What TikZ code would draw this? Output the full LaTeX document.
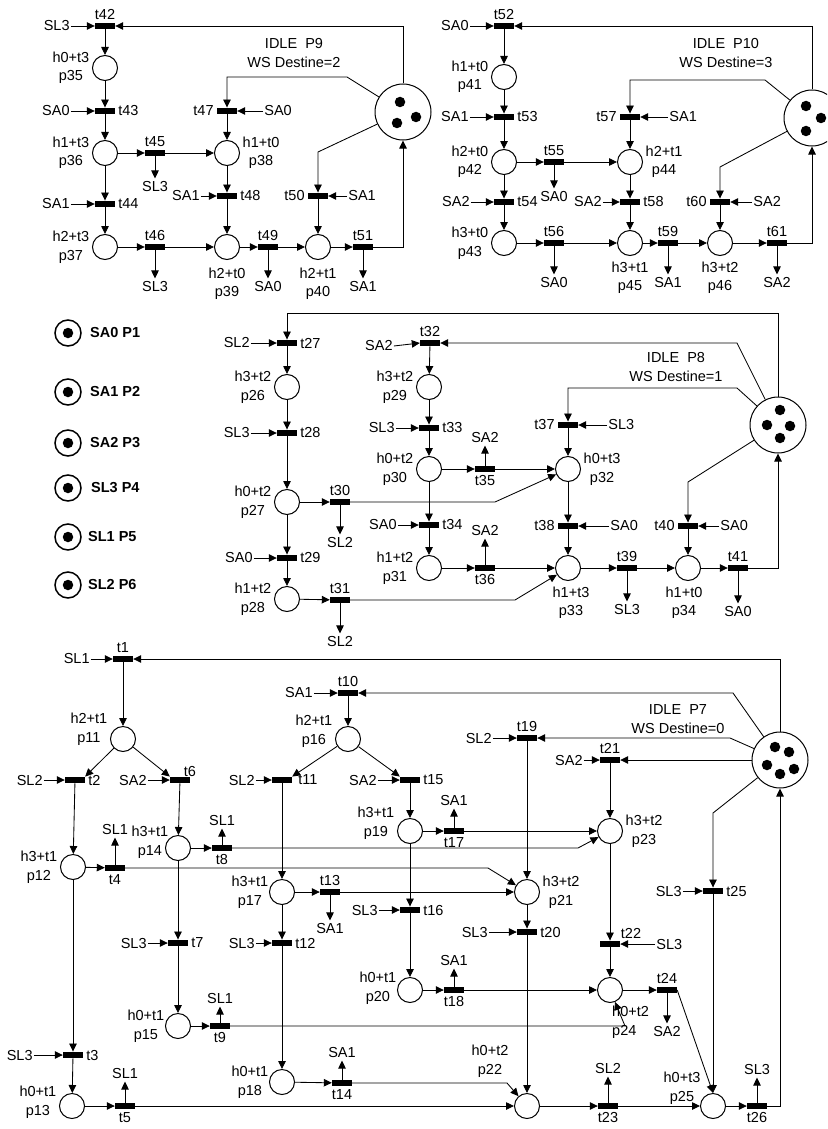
\documentclass[tikz,border=0pt]{standalone}
\usepackage{fontspec}
\setmainfont{Liberation Sans}
\usetikzlibrary{arrows.meta,positioning,calc}
\begin{document}
\begin{tikzpicture}[x=1pt,y=-1pt,
  every node/.style={font=\fontsize{14.5}{18.5}\selectfont},
  label distance=1.5pt,
  pl/.style={circle,draw,line width=1pt,minimum size=25pt,inner sep=0pt},
  idle/.style={circle,draw,line width=1pt,minimum size=56pt,inner sep=0pt},
  lg/.style={circle,draw,line width=1.5pt,minimum size=26pt,inner sep=0pt},
  tr/.style={rectangle,fill=black,minimum width=20pt,minimum height=6.5pt,inner sep=0pt},
  tok/.style={circle,fill=black,minimum size=10.5pt,inner sep=0pt},
  res/.style={inner sep=1pt},
  outr/.style={inner sep=3pt},
  lab/.style={align=center,inner sep=1pt},
  tl/.style={inner sep=1.5pt},
  arr/.style={line width=0.85pt,-{Triangle[length=8pt,width=7.5pt]}},
  lgt/.style={anchor=west,inner sep=0pt,font=\fontsize{14.5}{17}\selectfont\bfseries},
]
\useasboundingbox (0,0) rectangle (827,1129);
\clip (0,0) rectangle (827,1129);

% ================= P9 block =================
\node[idle] (P9) at (403,112) {};
\node[tok] (P9a) at (400,102) {};
\node[tok] (P9b) at (416,117) {};
\node[tok] (P9c) at (397,123) {};
\node[lab] (I9) at (294,53) {IDLE\ \ P9\\WS Destine=2};

\node[pl,label={[lab]left:{h0+t3\\p35}}] (p35) at (105,68) {};
\node[pl,label={[lab]left:{h1+t3\\p36}}] (p36) at (105,153) {};
\node[pl,label={[lab]left:{h2+t3\\p37}}] (p37) at (105,247) {};
\node[pl,label={[lab]right:{h1+t0\\p38}}] (p38) at (227,153) {};
\node[pl,label={[lab,yshift=-5pt]below:{h2+t0\\p39}}] (p39) at (227,247) {};
\node[pl,label={[lab,yshift=-5pt]below:{h2+t1\\p40}}] (p40) at (318,247) {};

\node[tr,label={[tl]above:t42}] (t42) at (105,26) {};
\node[tr,label={[tl]right:t43}] (t43) at (105,111) {};
\node[tr,label={[tl]right:t44}] (t44) at (105,204) {};
\node[tr,label={[tl]above:t45}] (t45) at (155,153) {};
\node[tr,label={[tl]above:t46}] (t46) at (155,247) {};
\node[tr,label={[tl]left:t47}] (t47) at (227,111) {};
\node[tr,label={[tl]right:t48}] (t48) at (227,196) {};
\node[tr,label={[tl]above:t49}] (t49) at (268,247) {};
\node[tr,label={[tl]left:t50}] (t50) at (318,196) {};
\node[tr,label={[tl]above:t51}] (t51) at (363,247) {};

\node[res,left=24pt of t42] (r42) {SL3};
\node[res,left=24pt of t43] (r43) {SA0};
\node[res,left=24pt of t44] (r44) {SA1};
\node[outr,below=22pt of t45] (r45) {SL3};
\node[outr,below=28pt of t46] (r46) {SL3};
\node[res,right=26pt of t47] (r47) {SA0};
\node[res,left=16pt of t48] (r48) {SA1};
\node[outr,below=28pt of t49] (r49) {SA0};
\node[res,right=19pt of t50] (r50) {SA1};
\node[outr,below=28pt of t51] (r51) {SA1};

\coordinate (k47) at (347,77);
\coordinate (k50) at (318,152);
\draw[arr] (r42) -- (t42);
\draw[arr] (P9.north) |- (t42.east);
\draw[arr] (t42) -- (p35);
\draw[arr] (p35) -- (t43);
\draw[arr] (r43) -- (t43);
\draw[arr] (t43) -- (p36);
\draw[arr] (p36) -- (t44);
\draw[arr] (r44) -- (t44);
\draw[arr] (t44) -- (p37);
\draw[arr] (p36) -- (t45);
\draw[arr] (t45) -- (r45);
\draw[arr] (t45) -- (p38);
\draw[arr] (p37) -- (t46);
\draw[arr] (t46) -- (r46);
\draw[arr] (t46) -- (p39);
\draw[arr] (P9) -- (k47) -| (t47.north);
\draw[arr] (r47) -- (t47);
\draw[arr] (t47) -- (p38);
\draw[arr] (p38) -- (t48);
\draw[arr] (r48) -- (t48);
\draw[arr] (t48) -- (p39);
\draw[arr] (p39) -- (t49);
\draw[arr] (t49) -- (r49);
\draw[arr] (t49) -- (p40);
\draw[arr] (P9) -- (k50) -- (t50.north);
\draw[arr] (r50) -- (t50);
\draw[arr] (t50) -- (p40);
\draw[arr] (p40) -- (t51);
\draw[arr] (t51) -- (r51);
\draw[arr] (t51.east) -| (P9.south);

% ================= P10 block =================
\node[idle] (P10) at (812,118) {};
\node[tok] (P10a) at (806,106) {};
\node[tok] (P10b) at (821,118) {};
\node[tok] (P10c) at (806,131) {};
\node[lab] (I10) at (726,53) {IDLE\ \ P10\\WS Destine=3};

\node[pl,label={[lab]left:{h1+t0\\p41}}] (p41) at (504,77) {};
\node[pl,label={[lab]left:{h2+t0\\p42}}] (p42) at (504,162) {};
\node[pl,label={[lab]left:{h3+t0\\p43}}] (p43) at (504,243) {};
\node[pl,label={[lab]right:{h2+t1\\p44}}] (p44) at (630,162) {};
\node[pl,label={[lab,yshift=-3pt]below:{h3+t1\\p45}}] (p45) at (630,243) {};
\node[pl,label={[lab,yshift=-3pt]below:{h3+t2\\p46}}] (p46) at (720,243) {};

\node[tr,label={[tl]above:t52}] (t52) at (504,26) {};
\node[tr,label={[tl]right:t53}] (t53) at (504,117) {};
\node[tr,label={[tl]right:t54}] (t54) at (504,202) {};
\node[tr,label={[tl]above:t55}] (t55) at (554,162) {};
\node[tr,label={[tl]above:t56}] (t56) at (554,243) {};
\node[tr,label={[tl]left:t57}] (t57) at (630,117) {};
\node[tr,label={[tl]right:t58}] (t58) at (630,202) {};
\node[tr,label={[tl]above:t59}] (t59) at (668,243) {};
\node[tr,label={[tl]left:t60}] (t60) at (720,202) {};
\node[tr,label={[tl]above:t61}] (t61) at (777,243) {};

\node[res,left=24pt of t52] (r52) {SA0};
\node[res,left=24pt of t53] (r53) {SA1};
\node[res,left=23pt of t54] (r54) {SA2};
\node[outr,below=23pt of t55] (r55) {SA0};
\node[outr,below=28pt of t56] (r56) {SA0};
\node[res,right=28pt of t57] (r57) {SA1};
\node[res,left=17pt of t58] (r58) {SA2};
\node[outr,below=28pt of t59] (r59) {SA1};
\node[res,right=22pt of t60] (r60) {SA2};
\node[outr,below=28pt of t61] (r61) {SA2};

\coordinate (k57) at (765,80);
\coordinate (k60) at (720,167);
\draw[arr] (r52) -- (t52);
\draw[arr] (P10.north) |- (t52.east);
\draw[arr] (t52) -- (p41);
\draw[arr] (p41) -- (t53);
\draw[arr] (r53) -- (t53);
\draw[arr] (t53) -- (p42);
\draw[arr] (p42) -- (t54);
\draw[arr] (r54) -- (t54);
\draw[arr] (t54) -- (p43);
\draw[arr] (p42) -- (t55);
\draw[arr] (t55) -- (r55);
\draw[arr] (t55) -- (p44);
\draw[arr] (p43) -- (t56);
\draw[arr] (t56) -- (r56);
\draw[arr] (t56) -- (p45);
\draw[arr] (P10) -- (k57) -| (t57.north);
\draw[arr] (r57) -- (t57);
\draw[arr] (t57) -- (p44);
\draw[arr] (p44) -- (t58);
\draw[arr] (r58) -- (t58);
\draw[arr] (t58) -- (p45);
\draw[arr] (p45) -- (t59);
\draw[arr] (t59) -- (r59);
\draw[arr] (t59) -- (p46);
\draw[arr] (P10) -- (k60) -- (t60.north);
\draw[arr] (r60) -- (t60);
\draw[arr] (t60) -- (p46);
\draw[arr] (p46) -- (t61);
\draw[arr] (t61) -- (r61);
\draw[arr] (t61.east) -| (P10.south);

% ================= Legend =================
\node[lg] (L1) at (68,333) {}; \node[tok] (L1k) at (68,333) {}; \node[lgt] (L1t) at (90,333) {SA0 P1};
\node[lg] (L2) at (68,392) {}; \node[tok] (L2k) at (68,392) {}; \node[lgt] (L2t) at (90,392) {SA1 P2};
\node[lg] (L3) at (68,443) {}; \node[tok] (L3k) at (68,443) {}; \node[lgt] (L3t) at (90,443) {SA2 P3};
\node[lg] (L4) at (68,488) {}; \node[tok] (L4k) at (68,488) {}; \node[lgt] (L4t) at (91,488) {SL3 P4};
\node[lg] (L5) at (68,537) {}; \node[tok] (L5k) at (68,537) {}; \node[lgt] (L5t) at (88,537) {SL1 P5};
\node[lg] (L6) at (68,585) {}; \node[tok] (L6k) at (68,585) {}; \node[lgt] (L6t) at (88,585) {SL2 P6};

% ================= P8 block =================
\node[idle] (P8) at (778,425) {};
\node[tok] (P8a) at (780,410) {};
\node[tok] (P8b) at (767,425) {};
\node[tok] (P8c) at (790,426) {};
\node[tok] (P8d) at (780,438) {};
\node[lab] (I8) at (676,367) {IDLE\ \ P8\\WS Destine=1};

\node[pl,label={[lab]left:{h3+t2\\p26}}] (p26) at (287,387) {};
\node[pl,label={[lab]left:{h0+t2\\p27}}] (p27) at (287,502) {};
\node[pl,label={[lab]left:{h1+t2\\p28}}] (p28) at (287,599) {};
\node[pl,label={[lab]left:{h3+t2\\p29}}] (p29) at (429,387) {};
\node[pl,label={[lab]left:{h0+t2\\p30}}] (p30) at (429,469) {};
\node[pl,label={[lab]left:{h1+t2\\p31}}] (p31) at (429,568) {};
\node[pl,label={[lab]right:{h0+t3\\p32}}] (p32) at (568,469) {};
\node[pl,label={[lab,yshift=-3pt,xshift=3pt]below:{h1+t3\\p33}}] (p33) at (568,568) {};
\node[pl,label={[lab,yshift=-3pt,xshift=-4pt]below:{h1+t0\\p34}}] (p34) at (688,568) {};

\node[tr,label={[tl]right:t27}] (t27) at (287,343) {};
\node[tr,label={[tl]right:t28}] (t28) at (287,433) {};
\node[tr,label={[tl]right:t29}] (t29) at (287,558) {};
\node[tr,label={[tl]above:t30}] (t30) at (340,502) {};
\node[tr,label={[tl]above:t31}] (t31) at (340,600) {};
\node[tr,label={[tl]above:t32}] (t32) at (430,343) {};
\node[tr,label={[tl]right:t33}] (t33) at (429,428) {};
\node[tr,label={[tl]right:t34}] (t34) at (429,525) {};
\node[tr,label={[tl]below:t35}] (t35) at (485,469) {};
\node[tr,label={[tl]below:t36}] (t36) at (485,568) {};
\node[tr,label={[tl]left:t37}] (t37) at (568,425) {};
\node[tr,label={[tl]left:t38}] (t38) at (568,526) {};
\node[tr,label={[tl]above:t39}] (t39) at (627,568) {};
\node[tr,label={[tl]left:t40}] (t40) at (688,526) {};
\node[tr,label={[tl]above:t41}] (t41) at (738,568) {};

\node[res,left=26pt of t27] (r27) {SL2};
\node[res,left=26pt of t28] (r28) {SL3};
\node[res,left=23pt of t29] (r29) {SA0};
\node[outr,below=29pt of t30] (r30) {SL2};
\node[outr,below=30pt of t31] (r31) {SL2};
\node[res,left=26pt of t32,yshift=-3pt] (r32) {SA2};
\node[res,left=23pt of t33] (r33) {SL3};
\node[res,left=21pt of t34] (r34) {SA0};
\node[outr,above=20pt of t35] (r35) {SA2};
\node[outr,above=26pt of t36] (r36) {SA2};
\node[res,right=29pt of t37] (r37) {SL3};
\node[res,right=31pt of t38] (r38) {SA0};
\node[outr,below=30pt of t39] (r39) {SL3};
\node[res,right=21pt of t40] (r40) {SA0};
\node[outr,below=32pt of t41] (r41) {SA0};

\coordinate (k8a) at (287,313);
\coordinate (k8b) at (737,343);
\coordinate (k8c) at (737,388);
\coordinate (k8d) at (688,482);
\coordinate (k30) at (495,502);
\coordinate (k31) at (515,600);
\draw[arr] (P8.north) |- (k8a) -- (t27.north);
\draw[arr] (r27) -- (t27.west);
\draw[arr] (t27) -- (p26);
\draw[arr] (p26) -- (t28);
\draw[arr] (r28) -- (t28);
\draw[arr] (t28) -- (p27);
\draw[arr] (p27) -- (t29);
\draw[arr] (r29) -- (t29);
\draw[arr] (t29) -- (p28);
\draw[arr] (p27) -- (t30);
\draw[arr] (t30) -- (r30);
\draw[arr] (t30.east) -- (k30) -- (p32);
\draw[arr] (p28) -- (t31);
\draw[arr] (t31) -- (r31);
\draw[arr] (t31.east) -- (k31) -- (p33);
\draw[arr] (P8) -- (k8b) -- (t32.east);
\draw[arr] (r32.east) -- (t32.west);
\draw[arr] (t32) -- (p29);
\draw[arr] (p29) -- (t33);
\draw[arr] (r33) -- (t33);
\draw[arr] (t33) -- (p30);
\draw[arr] (p30) -- (t34);
\draw[arr] (r34) -- (t34);
\draw[arr] (t34) -- (p31);
\draw[arr] (p30) -- (t35);
\draw[arr] (t35) -- (r35);
\draw[arr] (t35) -- (p32);
\draw[arr] (p31) -- (t36);
\draw[arr] (t36) -- (r36);
\draw[arr] (t36) -- (p33);
\draw[arr] (P8) -- (k8c) -| (t37.north);
\draw[arr] (r37) -- (t37);
\draw[arr] (t37) -- (p32);
\draw[arr] (p32) -- (t38);
\draw[arr] (r38) -- (t38);
\draw[arr] (t38) -- (p33);
\draw[arr] (p33) -- (t39);
\draw[arr] (t39) -- (r39);
\draw[arr] (t39) -- (p34);
\draw[arr] (P8) -- (k8d) -- (t40.north);
\draw[arr] (r40) -- (t40);
\draw[arr] (t40) -- (p34);
\draw[arr] (p34) -- (t41);
\draw[arr] (t41) -- (r41);
\draw[arr] (t41.east) -| (P8.south);

% ================= P7 block =================
\node[idle] (P7) at (780,760) {};
\node[tok] (P7a) at (775,747) {};
\node[tok] (P7b) at (789,752) {};
\node[tok] (P7c) at (767,765) {};
\node[tok] (P7d) at (780,774) {};
\node[tok] (P7e) at (794,769) {};
\node[lab] (I7) at (678,719) {IDLE\ \ P7\\WS Destine=0};

\node[pl,label={[lab,yshift=10pt]left:{h2+t1\\p11}}] (p11) at (123,739) {};
\node[pl,label={[lab]left:{h3+t1\\p12}}] (p12) at (73,867) {};
\node[pl,label={[lab,yshift=4pt]left:{h0+t1\\p13}}] (p13) at (72,1106) {};
\node[pl,label={[lab,yshift=6pt,xshift=6pt]left:{h3+t1\\p14}}] (p14) at (178,848) {};
\node[pl,label={[lab,xshift=2pt]left:{h0+t1\\p15}}] (p15) at (178,1026) {};
\node[pl,label={[lab,yshift=8pt]left:{h2+t1\\p16}}] (p16) at (348,739) {};
\node[pl,label={[lab,xshift=2pt]left:{h3+t1\\p17}}] (p17) at (282,892) {};
\node[pl,label={[lab,xshift=2pt]left:{h0+t1\\p18}}] (p18) at (282,1082) {};
\node[pl,label={[lab,yshift=8pt]left:{h3+t1\\p19}}] (p19) at (410,831) {};
\node[pl,label={[lab,yshift=2pt,xshift=2pt]left:{h0+t1\\p20}}] (p20) at (410,990) {};
\node[pl,label={[lab]right:{h3+t2\\p21}}] (p21) at (527,892) {};
\node[pl] (p22) at (527,1106) {};
\node[lab] (p22l) at (490,1061) {h0+t2\\p22};
\node[pl,label={[lab]right:{h3+t2\\p23}}] (p23) at (610,831) {};
\node[pl] (p24) at (610,990) {};
\node[lab,align=left,anchor=west] (p24l) at (611,1022) {h0+t2\\p24};
\node[pl] (p25) at (713,1106) {};
\node[lab] (p25l) at (682,1088) {h0+t3\\p25};

\node[tr,label={[tl]above:t1}] (t1) at (123,659) {};
\node[tr,label={[tl]right:t2}] (t2) at (75,780) {};
\node[tr,label={[tl]right:t3}] (t3) at (73,1055) {};
\node[tr,label={[tl]below:t4}] (t4) at (115,868) {};
\node[tr,label={[tl]below:t5}] (t5) at (125,1106) {};
\node[tr,label={[tl,xshift=10pt,yshift=-3pt]above:t6}] (t6) at (180,780) {};
\node[tr,label={[tl]right:t7}] (t7) at (178,943) {};
\node[tr,label={[tl]below:t8}] (t8) at (222,848) {};
\node[tr,label={[tl]below:t9}] (t9) at (220,1026) {};
\node[tr,label={[tl]above:t10}] (t10) at (348,693) {};
\node[tr,label={[tl,xshift=3pt]right:t11}] (t11) at (282,780) {};
\node[tr,label={[tl]right:t12}] (t12) at (282,943) {};
\node[tr,label={[tl]above:t13}] (t13) at (330,892) {};
\node[tr,label={[tl]below:t14}] (t14) at (342,1083) {};
\node[tr,label={[tl]right:t15}] (t15) at (410,780) {};
\node[tr,label={[tl]right:t16}] (t16) at (410,910) {};
\node[tr,label={[tl]below:t17}] (t17) at (454,831) {};
\node[tr,label={[tl]below:t18}] (t18) at (454,990) {};
\node[tr,label={[tl]above:t19}] (t19) at (527,738) {};
\node[tr,label={[tl]right:t20}] (t20) at (527,932) {};
\node[tr,label={[tl]above:t21}] (t21) at (610,760) {};
\node[tr,label={[tl,xshift=21pt,yshift=-1pt]above:t22}] (t22) at (610,944) {};
\node[tr,label={[tl]below:t23}] (t23) at (608,1106) {};
\node[tr,label={[tl]above:t24}] (t24) at (667,990) {};
\node[tr,label={[tl]right:t25}] (t25) at (713,891) {};
\node[tr,label={[tl]below:t26}] (t26) at (757,1106) {};

\node[res,left=22pt of t1] (r1) {SL1};
\node[res,left=21pt of t2] (r2) {SL2};
\node[res,left=29pt of t3] (r3) {SL3};
\node[outr,above=27pt of t4] (r4) {SL1};
\node[outr,above=21pt of t5] (r5) {SL1};
\node[res,left=22pt of t6] (r6) {SA2};
\node[res,left=20pt of t7] (r7) {SL3};
\node[outr,above=16pt of t8] (r8) {SL1};
\node[outr,above=16pt of t9] (r9) {SL1};
\node[res,left=24pt of t10] (r10) {SA1};
\node[res,left=16pt of t11] (r11) {SL2};
\node[res,left=16pt of t12] (r12) {SL3};
\node[outr,below=25pt of t13] (r13) {SA1};
\node[outr,above=19pt of t14] (r14) {SA1};
\node[res,left=22pt of t15] (r15) {SA2};
\node[res,left=21pt of t16] (r16) {SL3};
\node[outr,above=19pt of t17] (r17) {SA1};
\node[outr,above=18pt of t18] (r18) {SA1};
\node[res,left=24pt of t19] (r19) {SL2};
\node[res,left=28pt of t20] (r20) {SL3};
\node[res,left=16pt of t21] (r21) {SA2};
\node[res,right=35pt of t22] (r22) {SL3};
\node[outr,above=26pt of t23] (r23) {SL2};
\node[outr,below=30pt of t24] (r24) {SA2};
\node[res,left=20pt of t25] (r25) {SL3};
\node[outr,above=25pt of t26] (r26) {SL3};

\coordinate (k10) at (733,693);
\coordinate (k19) at (730,738);
\coordinate (k25) at (713,813);
\coordinate (k4) at (488,868);
\coordinate (k8) at (578,848);
\coordinate (k9) at (625,1026);
\coordinate (k14) at (507,1083);

\draw[arr] (r1) -- (t1);
\draw[arr] (P7.north) |- (t1.east);
\draw[arr] (t1) -- (p11);
\draw[arr] (p11) -- (t2.north east);
\draw[arr] (p11) -- (t6.north west);
\draw[arr] (r2) -- (t2);
\draw[arr] (r6) -- (t6);
\draw[arr] (t2) -- (p12);
\draw[arr] (t6) -- (p14);
\draw[arr] (p12) -- (t4);
\draw[arr] (t4) -- (r4);
\draw[arr] (t4.east) -- (k4) -- (p21);
\draw[arr] (p12) -- (t3);
\draw[arr] (r3) -- (t3);
\draw[arr] (t3) -- (p13);
\draw[arr] (p13) -- (t5);
\draw[arr] (t5) -- (r5);
\draw[arr] (t5) -- (p22);
\draw[arr] (p14) -- (t8);
\draw[arr] (t8) -- (r8);
\draw[arr] (t8.east) -- (k8) -- (p23);
\draw[arr] (p14) -- (t7);
\draw[arr] (r7) -- (t7);
\draw[arr] (t7) -- (p15);
\draw[arr] (p15) -- (t9);
\draw[arr] (t9) -- (r9);
\draw[arr] (t9.east) -- (k9) -- (p24);
\draw[arr] (P7) -- (k10) -- (t10.east);
\draw[arr] (r10) -- (t10);
\draw[arr] (t10) -- (p16);
\draw[arr] (p16) -- (t11.north east);
\draw[arr] (p16) -- (t15.north west);
\draw[arr] (r11) -- (t11);
\draw[arr] (r15) -- (t15);
\draw[arr] (t11) -- (p17);
\draw[arr] (t15) -- (p19);
\draw[arr] (p17) -- (t13);
\draw[arr] (t13) -- (r13);
\draw[arr] (t13) -- (p21);
\draw[arr] (p17) -- (t12);
\draw[arr] (r12) -- (t12);
\draw[arr] (t12) -- (p18);
\draw[arr] (p18) -- (t14);
\draw[arr] (t14) -- (r14);
\draw[arr] (t14.east) -- (k14) -- (p22);
\draw[arr] (p19) -- (t17);
\draw[arr] (t17) -- (r17);
\draw[arr] (t17) -- (p23);
\draw[arr] (p19) -- (t16);
\draw[arr] (r16) -- (t16);
\draw[arr] (t16) -- (p20);
\draw[arr] (p20) -- (t18);
\draw[arr] (t18) -- (r18);
\draw[arr] (t18) -- (p24);
\draw[arr] (P7) -- (k19) -- (t19.east);
\draw[arr] (r19) -- (t19);
\draw[arr] (t19) -- (p21);
\draw[arr] (p21) -- (t20);
\draw[arr] (r20) -- (t20);
\draw[arr] (t20) -- (p22);
\draw[arr] (P7.west) -- (t21.east);
\draw[arr] (r21) -- (t21);
\draw[arr] (t21) -- (p23);
\draw[arr] (p23) -- (t22);
\draw[arr] (r22) -- (t22);
\draw[arr] (t22) -- (p24);
\draw[arr] (p24) -- (t24);
\draw[arr] (t24) -- (r24);
\draw[arr] (t24.east) -- (p25.north);
\draw[arr] (P7) -- (k25) -- (t25.north);
\draw[arr] (r25) -- (t25);
\draw[arr] (t25) -- (p25);
\draw[arr] (p22) -- (t23);
\draw[arr] (t23) -- (r23);
\draw[arr] (t23) -- (p25);
\draw[arr] (p25) -- (t26);
\draw[arr] (t26) -- (r26);
\draw[arr] (t26.east) -| (P7.south);
\end{tikzpicture}
\end{document}
